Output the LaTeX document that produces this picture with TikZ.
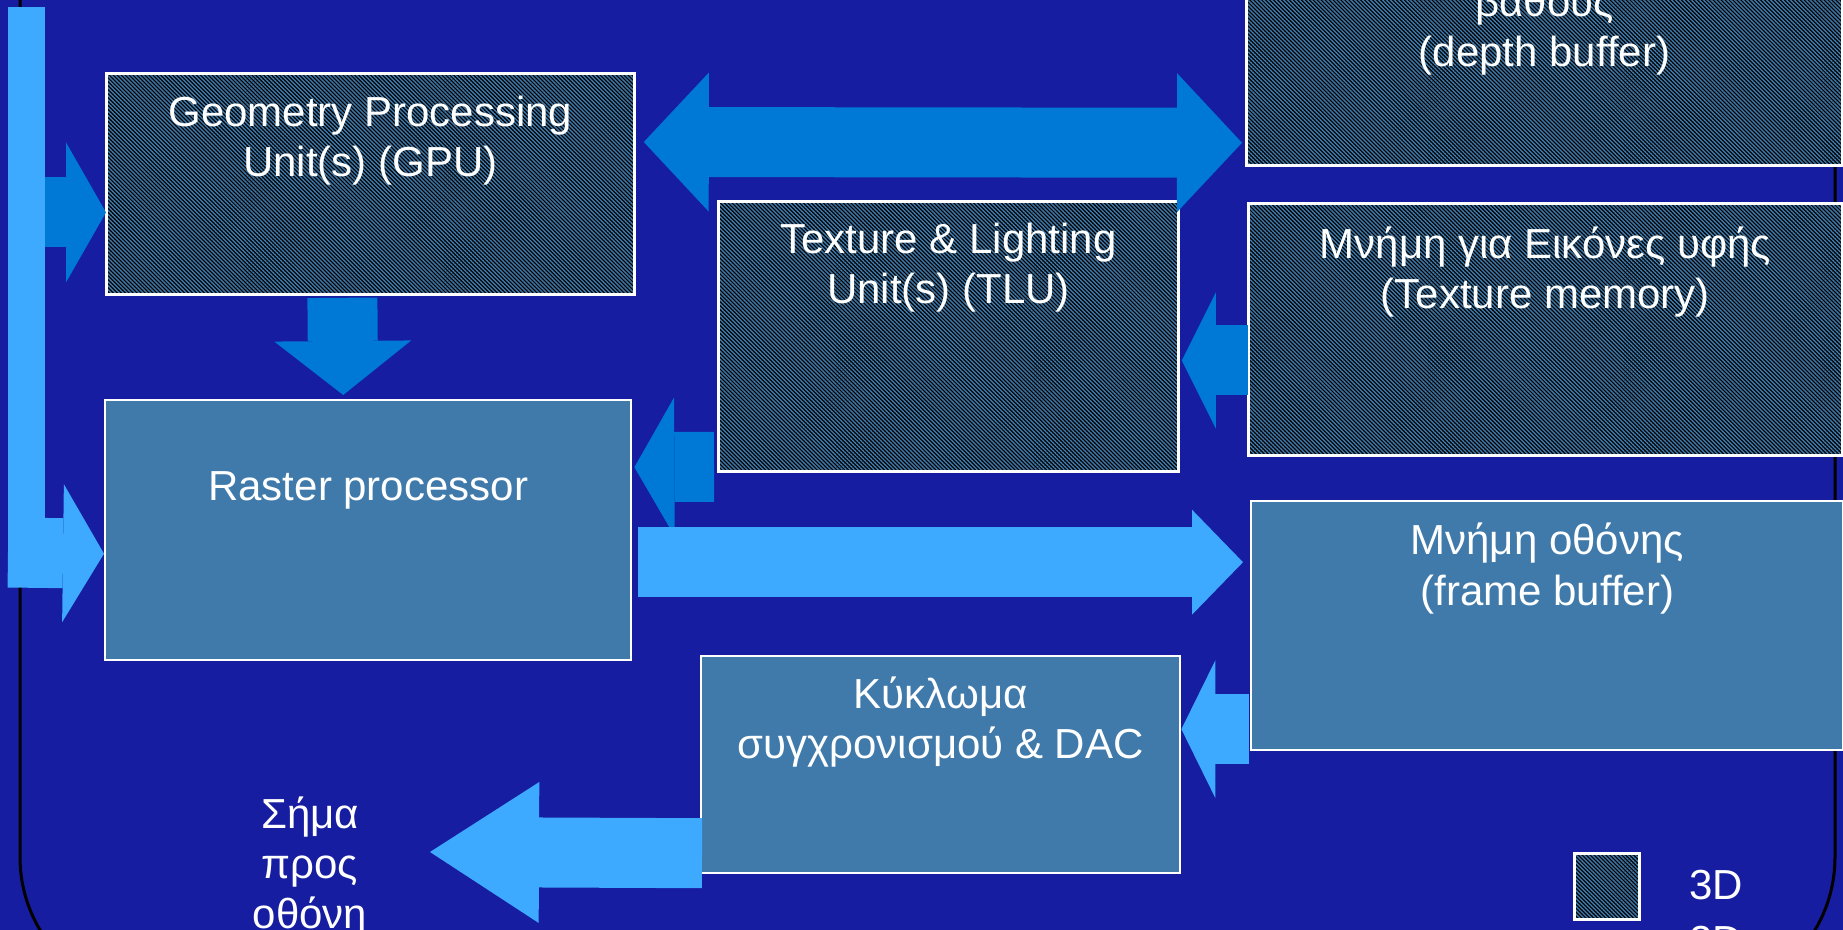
\documentclass[tikz,border=0pt]{standalone}
\usepackage{fontspec}
\setmainfont{Liberation Sans}
\usetikzlibrary{calc}
\usetikzlibrary{arrows.meta}
\usetikzlibrary{patterns.meta}
\definecolor{slidebg}{RGB}{22,29,160}
\definecolor{busblue}{RGB}{61,170,255}
\definecolor{linkblue}{RGB}{0,121,214}
\definecolor{unitblue}{RGB}{64,122,170}
\newcommand{\unitfont}{\fontsize{21}{25}\selectfont}
\tikzset{unit/.style={fill=unitblue,draw=white,line width=1.2pt,inner sep=0pt,anchor=north west}}
\tikzset{unit3d/.style={fill=black,inner sep=0pt,anchor=north west,
	postaction={pattern={Lines[angle=-45,distance=1.4pt,line width=0.7pt]},pattern color=unitblue},
	postaction={draw=white,line width=1.2pt}}}
% multi-line captions sit on the baseline of their last line
\tikzset{caption/.style={text=white,font=\unitfont,align=center,inner sep=0pt,anchor=base}}
\tikzset{bus/.style={color=#1,line width=35pt},bus/.default=busblue}

\begin{document}
\begin{tikzpicture}[x=0.5pt,y=-0.5pt]
		\useasboundingbox (0,0) rectangle (1843,930);
		\clip (0,0) rectangle (1843,930);
		\fill [slidebg] (0,0) rectangle (1843,930);
		\draw [black,line width=1.5pt,rounded corners=71.5pt] (20,-300) rectangle (1835,1000);
		
		% processing units
		\node [unit3d,minimum width=264pt,minimum height=110.5pt] (gpu) at (106,73) {};
		\node [unit,minimum width=263pt,minimum height=130pt] (raster) at (104,399) {};
		\node [unit3d,minimum width=230pt,minimum height=135pt] (tlu) at (718,201) {};
		\node [unit,minimum width=239.5pt,minimum height=108.5pt] (dac) at (700,655) {};
		
		% memories
		\node [unit3d,minimum width=298pt,minimum height=112.5pt] (depth) at (1246,-60) {};
		\node [unit3d,minimum width=297pt,minimum height=126pt] (texmem) at (1248,203) {};
		\node [unit,minimum width=296pt,minimum height=124.5pt] (fb) at (1250,500) {};
		
		\node [caption] (gpu text) at ($(gpu.north)+(0,104)$) {Geometry Processing\\Unit(s) (GPU)};
		\node [caption] (raster text) at ($(raster.north)+(0,102)$) {Raster processor};
		\node [caption] (tlu text) at ($(tlu.north)+(0,103)$) {Texture \& Lighting\\Unit(s) (TLU)};
		\node [caption] (dac text) at ($(dac.north)+(0,103)$) {Κύκλωμα\\συγχρονισμού \& DAC};
		\node [caption] (depth text) at ($(depth.south)+(0,-99)$) {βάθους\\(depth buffer)};
		\node [caption] (texmem text) at ($(texmem.north)+(0,106)$) {Μνήμη για Εικόνες υφής\\(Texture memory)};
		\node [caption] (fb text) at ($(fb.north)+(0,105)$) {Μνήμη οθόνης\\(frame buffer)};
		\node [caption] (signal) at (310,928) {Σήμα\\προς\\οθόνη};
		\coordinate (signal out) at (430,852);
		
		% legend
		\node [unit3d,minimum width=32.5pt,minimum height=33pt] (key3d) at (1574,853) {};
		\node [caption,anchor=base west] (key3d text) at ($(key3d.east)+(49,13)$) {3D};
		\node [caption,anchor=base west] (key2d text) at ($(key3d text.base west)+(0,56)$) {2D};
		
		% input bus
		\coordinate (bus top) at (8,7);
		\fill [busblue] (bus top) rectangle ++(37,580);
		\draw [bus,-{Triangle[length=20.5pt,width=69pt,line width=0pt]}]
			($(bus top)+(0,545.5)$) -- ($(raster.west)+(0,23.5)$);
		\draw [bus=linkblue,-{Triangle[length=20pt,width=70pt,line width=0pt]}]
			($(gpu.west)+(-61,28.5)$) -- ($(gpu.west)+(0,28.5)$);
		
		% data paths
		\draw [bus=linkblue,{Triangle[length=32.5pt,width=69.5pt,line width=0pt]}-{Triangle[length=32.5pt,width=69.5pt,line width=0pt]}]
			($(gpu.north east)+(9,69)$) -- ($(depth.south west)+(-4,-23)$);
		\draw [bus=linkblue,-{Triangle[length=27pt,width=68.5pt,line width=0pt]}]
			($(gpu.south)+(-28,3)$) -- ($(raster.north)+(-25,-4)$);
		\draw [bus=linkblue,-{Triangle[length=20pt,width=69.5pt,line width=0pt]}]
			($(tlu.south west)+(-4,-5)$) -- ($(raster.east)+(2,-63)$);
		\draw [bus=linkblue,-{Triangle[length=17pt,width=68pt,line width=0pt]}]
			($(texmem.west)+(0,31)$) -- ($(tlu.east)+(3,24)$);
		\draw [bus,-{Triangle[length=25.5pt,width=52.5pt,line width=0pt]}]
			($(raster.east)+(6,32)$) -- ($(fb.west)+(-7,-63.5)$);
		\draw [bus,-{Triangle[length=17pt,width=69pt,line width=0pt]}]
			($(fb.west)+(-1,103.5)$) -- ($(dac.east)+(0,-35.5)$);
		\draw [bus,-{Triangle[length=54.5pt,width=70.5pt,line width=0pt]}]
			($(dac.west)+(2,88.5)$) -- (signal out);
	\end{tikzpicture}
\end{document}
